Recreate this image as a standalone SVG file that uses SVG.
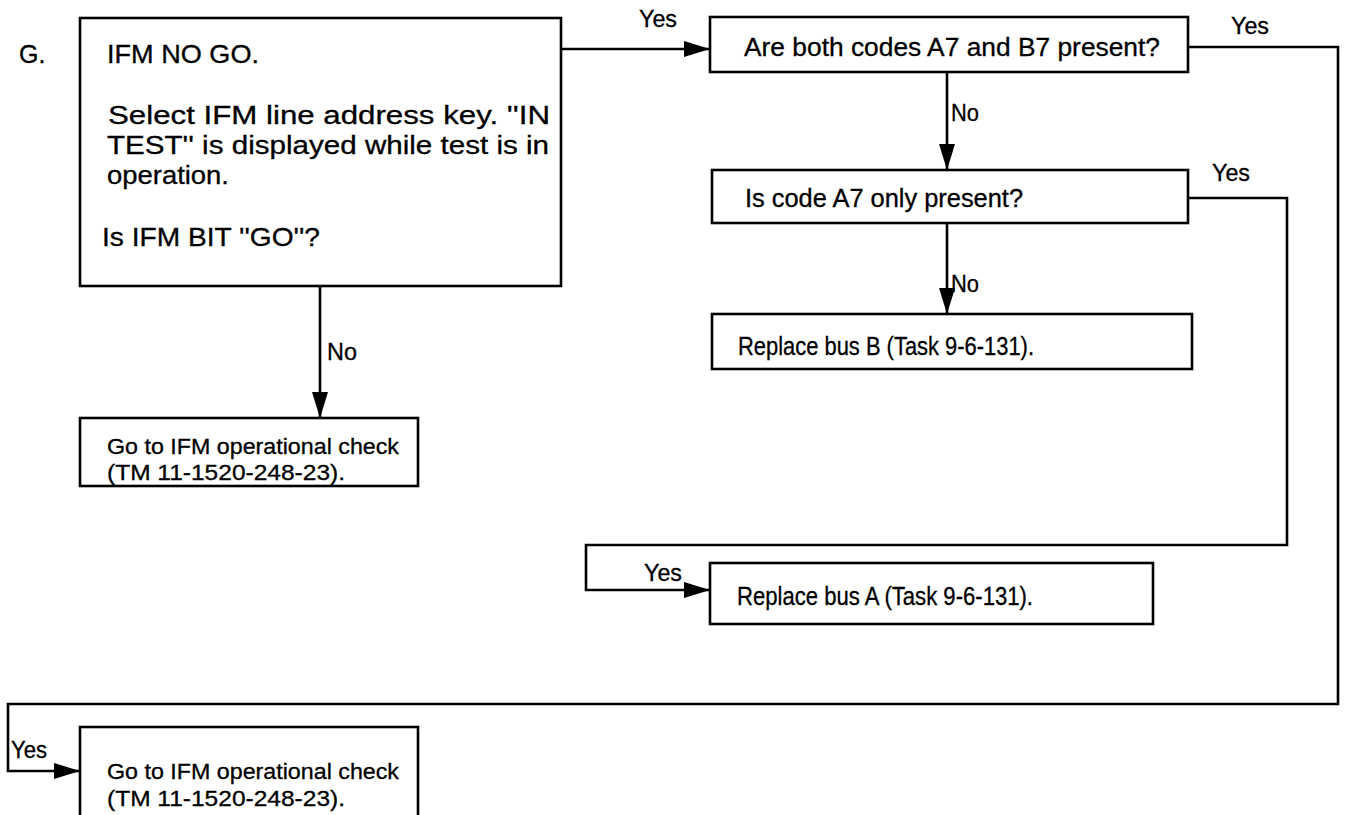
<svg xmlns="http://www.w3.org/2000/svg" width="1347" height="815" viewBox="0 0 1347 815">
<defs>
<style>
.box{fill:#fff;stroke:#000;stroke-width:2.6}
.ln{fill:none;stroke:#000;stroke-width:2.6}
.t{font-family:"Liberation Sans",Arial,sans-serif;font-size:25px;fill:#000;stroke:#000;stroke-width:0.3}
.s{font-family:"Liberation Sans",Arial,sans-serif;font-size:22px;fill:#000;stroke:#000;stroke-width:0.3}
.l{font-family:"Liberation Sans",Arial,sans-serif;font-size:24px;fill:#000;stroke:#000;stroke-width:0.3}
</style>
<marker id="ah" viewBox="0 0 26 16" refX="26" refY="8" markerWidth="26" markerHeight="16" markerUnits="userSpaceOnUse" orient="auto">
<path d="M0,0 L26,8 L0,16 Z" fill="#000"/>
</marker>
</defs>
<rect width="1347" height="815" fill="#fff"/>
<text class="t" x="19" y="63">G.</text>
<g id="connectors">
<line class="ln" x1="561" y1="49" x2="710" y2="49" marker-end="url(#ah)"/>
<line class="ln" x1="320" y1="286" x2="320" y2="418" marker-end="url(#ah)"/>
<line class="ln" x1="947" y1="72" x2="947" y2="170" marker-end="url(#ah)"/>
<line class="ln" x1="947" y1="223" x2="947" y2="314" marker-end="url(#ah)"/>
<polyline class="ln" points="1188,198 1287,198 1287,545 586,545 586,590 710,590" marker-end="url(#ah)"/>
<polyline class="ln" points="1188,47 1338,47 1338,704 8,704 8,771 80,771" marker-end="url(#ah)"/>
<text class="l" x="639" y="27" textLength="38" lengthAdjust="spacingAndGlyphs">Yes</text>
<text class="l" x="1231" y="34" textLength="38" lengthAdjust="spacingAndGlyphs">Yes</text>
<text class="l" x="951" y="121" textLength="28" lengthAdjust="spacingAndGlyphs">No</text>
<text class="l" x="1212" y="181" textLength="38" lengthAdjust="spacingAndGlyphs">Yes</text>
<text class="l" x="951" y="292" textLength="28" lengthAdjust="spacingAndGlyphs">No</text>
<text class="l" x="327" y="360" textLength="30" lengthAdjust="spacingAndGlyphs">No</text>
<text class="l" x="644" y="581" textLength="38" lengthAdjust="spacingAndGlyphs">Yes</text>
<text class="l" x="11" y="758" textLength="36" lengthAdjust="spacingAndGlyphs">Yes</text>
</g>
<g id="n1">
<rect class="box" x="80" y="18" width="481" height="268"/>
<text class="t" x="107" y="63" textLength="152" lengthAdjust="spacingAndGlyphs">IFM NO GO.</text>
<text class="t" x="108" y="124" textLength="442" lengthAdjust="spacingAndGlyphs">Select IFM line address key.  ''IN</text>
<text class="t" x="107" y="154" textLength="442" lengthAdjust="spacingAndGlyphs">TEST'' is displayed while test is in</text>
<text class="t" x="107" y="184" textLength="122" lengthAdjust="spacingAndGlyphs">operation.</text>
<text class="t" x="102" y="246" textLength="218" lengthAdjust="spacingAndGlyphs">Is  IFM BIT ''GO''?</text>
</g>
<g id="n2">
<rect class="box" x="80" y="418" width="338" height="68"/>
<text class="s" x="107" y="454" textLength="292" lengthAdjust="spacingAndGlyphs">Go to IFM operational check</text>
<text class="s" x="107" y="480" textLength="238" lengthAdjust="spacingAndGlyphs">(TM 11-1520-248-23).</text>
</g>
<g id="n3">
<rect class="box" x="710" y="17" width="478" height="55"/>
<text class="t" x="744" y="56" textLength="416" lengthAdjust="spacingAndGlyphs">Are both codes A7 and B7 present?</text>
</g>
<g id="n4">
<rect class="box" x="712" y="170" width="476" height="53"/>
<text class="t" x="745" y="207" textLength="278" lengthAdjust="spacingAndGlyphs">Is code A7 only present?</text>
</g>
<g id="n5">
<rect class="box" x="712" y="314" width="480" height="55"/>
<text class="t" x="738" y="355" textLength="296" lengthAdjust="spacingAndGlyphs">Replace bus B (Task 9-6-131).</text>
</g>
<g id="n6">
<rect class="box" x="710" y="563" width="443" height="61"/>
<text class="t" x="737" y="605" textLength="296" lengthAdjust="spacingAndGlyphs">Replace bus A (Task 9-6-131).</text>
</g>
<g id="n7">
<rect class="box" x="80" y="727" width="338" height="100"/>
<text class="s" x="107" y="779" textLength="292" lengthAdjust="spacingAndGlyphs">Go to IFM operational check</text>
<text class="s" x="107" y="806" textLength="238" lengthAdjust="spacingAndGlyphs">(TM 11-1520-248-23).</text>
</g>
</svg>
